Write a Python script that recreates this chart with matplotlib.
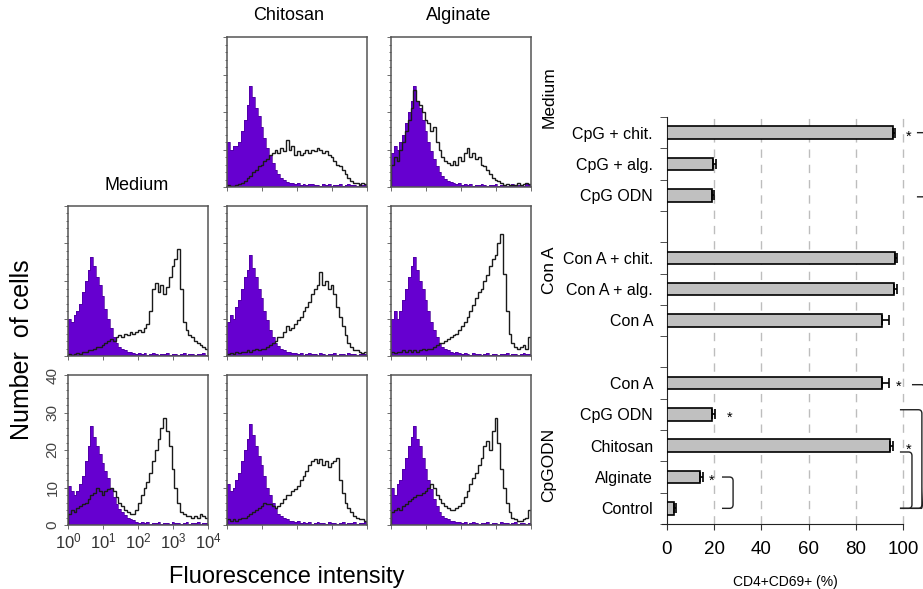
import numpy as np
import matplotlib
matplotlib.use("Agg")
import matplotlib.pyplot as plt
from matplotlib.path import Path
from matplotlib.patches import PathPatch
from matplotlib.ticker import MultipleLocator, FixedLocator, LogLocator, NullFormatter

plt.rcParams['font.family'] = ['Liberation Sans', 'DejaVu Sans']

# ---------------- data ----------------
# histogram channels: 50 bins over 10^0 .. 10^4 (log)
log_edges = np.linspace(0, 4, 51)

col_titles = ["Medium", "Chitosan", "Alginate"]
row_titles = ["Medium", "Con A", "CpGODN"]

# Row 1 (Medium stimulus)
ctrl_r1_chit = [12, 10, 11, 11, 12, 15, 18, 22, 27, 24,
                21, 19, 16, 13, 10.5, 8.5, 6.5, 4.5, 3.5, 2.5,
                1.8, 1.4, 1.2, 1.0, 0.8, 1.0, 0.6, 0.8, 0.5, 0.7,
                0.9, 0.5, 0.6, 0.4, 0.7, 0.5, 0.8, 0.4, 0.6, 0.5,
                0.7, 0.4, 0.6, 0.8, 0.5, 0.6, 0.4, 0.7, 0.5, 0.6]
stim_r1_chit = [0.5, 0.4, 0.3, 0.5, 0.8, 1.0, 1.5, 2.5, 3.0, 4.0,
                4.5, 5.5, 6.0, 7.0, 7.5, 8.5, 9.0, 10.0, 9.0, 10.5,
                9.5, 12.5, 10.0, 11.0, 8.5, 9.5, 8.5, 9.0, 10.0, 9.0,
                10.0, 9.5, 10.5, 10.0, 9.0, 9.5, 8.5, 8.0, 7.0, 6.0,
                5.5, 4.5, 3.5, 2.5, 1.5, 1.0, 1.0, 0.5, 1.0, 0.8]
ctrl_r1_alg = [9, 11, 10, 12, 14, 17, 20, 23, 27, 23,
               21, 18, 15, 12, 9.5, 7.5, 5.5, 4.0, 3.0, 2.2,
               1.6, 1.3, 1.0, 0.8, 1.0, 0.6, 0.7, 0.5, 0.8, 0.4,
               0.6, 0.5, 0.7, 0.5, 0.4, 0.6, 0.5, 0.7, 0.4, 0.5,
               0.6, 0.4, 0.5, 0.7, 0.4, 0.6, 0.5, 0.4, 0.7, 0.5]
stim_r1_alg = [6, 8, 7, 10, 12, 15, 18, 21, 26, 23,
               22, 20, 18, 17, 15, 16, 12, 10, 8, 7,
               6.5, 6, 7, 6, 8, 7, 9, 10.5, 8, 9,
               7.5, 8, 6, 5.5, 4.5, 3.5, 2.5, 2, 1.5, 1,
               0.5, 0.8, 0.5, 0.6, 0.5, 1.0, 0.5, 0.8, 1.2, 0.8]

# Row 2 (Con A)
ctrl_r2_med = [10, 9, 11, 12, 14, 17, 20, 23, 26.5, 24,
               21, 19, 16, 12.5, 10, 7.5, 5, 3.5, 2.5, 2,
               1.5, 1.2, 1.0, 0.8, 0.6, 0.9, 0.5, 0.7, 0.4, 0.6,
               0.8, 0.5, 0.4, 0.6, 0.5, 0.7, 0.4, 0.5, 0.6, 0.4,
               0.5, 0.7, 0.4, 0.6, 0.5, 0.4, 0.6, 0.5, 0.7, 0.4]
stim_r2_med = [0.5, 0.3, 0.5, 0.8, 0.6, 1.0, 1.2, 1.5, 1.5, 2.0,
               2.5, 2.5, 3.0, 3.5, 4.0, 4.5, 4.0, 5.0, 5.5, 5.0,
               6.0, 5.5, 6.5, 6.0, 6.5, 7.0, 6.5, 7.5, 8.5, 12.0,
               18.0, 19.5, 17.0, 19.0, 16.5, 18.5, 21.0, 24.0, 26.0, 28.5,
               18.0, 9.0, 7.0, 5.5, 5.0, 4.0, 3.5, 3.0, 2.5, 2.0]
ctrl_r2_chit = [9, 11, 10, 13, 15, 18, 21, 23, 27, 23.5,
                21, 18, 15.5, 12, 9.5, 7, 5, 3.5, 2.8, 2,
                1.6, 1.2, 1.0, 0.7, 0.9, 0.5, 0.7, 0.4, 0.6, 0.8,
                0.5, 0.6, 0.4, 0.7, 0.5, 0.4, 0.6, 0.5, 0.7, 0.4,
                0.6, 0.5, 0.4, 0.7, 0.5, 0.6, 0.4, 0.5, 0.6, 0.5]
stim_r2_chit = [0.5, 0.8, 0.6, 1.0, 0.8, 1.2, 1.0, 1.5, 1.2, 1.5,
                1.8, 1.5, 2.0, 2.0, 2.5, 3.0, 3.5, 4.0, 5.0, 5.0,
                6.5, 8.0, 7.0, 7.5, 8.5, 9.5, 10.5, 12.0, 13.0, 14.5,
                16.5, 18.0, 19.0, 22.5, 19.0, 20.0, 18.0, 19.0, 16.5, 13.0,
                10.5, 8.0, 5.5, 3.5, 2.5, 1.5, 1.5, 1.0, 0.8, 1.0]
ctrl_r2_alg = [10, 12, 10, 12, 15, 18, 21, 24, 26.5, 23,
               20, 18, 15, 12, 9, 7, 5, 3.5, 2.5, 2,
               1.5, 1.2, 0.9, 1.0, 0.7, 0.5, 0.8, 0.6, 0.4, 0.7,
               0.5, 0.6, 0.4, 0.5, 0.7, 0.4, 0.6, 0.5, 0.4, 0.6,
               0.5, 0.7, 0.4, 0.5, 0.6, 0.4, 0.5, 0.7, 0.5, 0.6]
stim_r2_alg = [1.0, 0.8, 1.2, 1.0, 1.5, 1.2, 1.5, 1.0, 1.5, 1.2,
               1.5, 1.8, 1.5, 1.8, 2.0, 2.5, 3.0, 3.5, 3.5, 4.0,
               4.5, 5.0, 5.5, 6.0, 7.0, 8.0, 9.0, 10.5, 12.0, 13.5,
               15.5, 17.0, 18.0, 20.0, 21.5, 24.0, 26.0, 27.0, 30.0, 32.5,
               22.0, 12.0, 6.0, 3.5, 2.5, 2.0, 2.5, 3.0, 2.0, 5.0]

# Row 3 (CpG ODN)
ctrl_r3_med = [10.5, 9, 8, 9, 11, 13, 17, 21, 26.5, 23.5,
               21, 19, 16.5, 14.5, 12.5, 10, 7.5, 5.5, 4.2, 3.4,
               2.6, 2.0, 1.7, 1.4, 0.8, 0.6, 0.9, 0.5, 0.7, 0.4,
               0.6, 0.5, 0.7, 0.4, 0.6, 0.5, 0.4, 0.7, 0.5, 0.6,
               0.4, 0.5, 0.7, 0.4, 0.6, 0.5, 0.7, 0.4, 0.6, 0.5]
stim_r3_med = [3.0, 4.0, 3.5, 4.5, 5.0, 5.5, 6.0, 7.0, 8.0, 8.5,
               10.0, 9.0, 8.0, 9.0, 9.5, 10.0, 9.0, 7.5, 6.0, 5.0,
               4.0, 3.5, 3.0, 3.0, 4.0, 6.0, 8.0, 10.0, 11.5, 14.0,
               17.0, 20.0, 23.0, 26.0, 28.5, 25.0, 21.0, 15.0, 10.0, 6.0,
               3.5, 3.0, 2.5, 2.5, 2.0, 2.5, 2.0, 3.0, 2.5, 2.0]
ctrl_r3_chit = [11, 9, 10, 12, 14, 17, 20, 23, 27, 24,
                21, 18.5, 16, 13, 10, 8, 6, 4.5, 3, 2.5,
                2, 1.5, 1.2, 1.0, 0.8, 1.0, 0.6, 0.8, 0.5, 0.7,
                0.4, 0.6, 0.8, 0.5, 0.6, 0.4, 0.7, 0.5, 0.6, 0.4,
                0.5, 0.7, 0.4, 0.6, 0.5, 0.7, 0.4, 0.6, 0.5, 0.7]
stim_r3_chit = [1.5, 1.0, 1.5, 1.0, 1.5, 2.0, 2.0, 2.5, 3.0, 3.5,
                4.0, 4.5, 5.0, 6.0, 5.5, 5.5, 5.0, 4.5, 5.0, 6.0,
                7.0, 8.0, 8.0, 9.0, 9.5, 10.5, 12.0, 13.0, 14.5, 16.0,
                17.0, 17.5, 16.5, 17.5, 16.0, 17.0, 15.5, 16.5, 17.0, 18.0,
                12.0, 8.5, 6.0, 4.5, 3.5, 2.5, 2.0, 1.5, 1.5, 1.0]
ctrl_r3_alg = [10, 8, 11, 12, 15, 18, 21, 23.5, 26.5, 23,
               21, 18, 15, 12, 9.5, 7, 5, 3.5, 2.5, 2,
               1.5, 1.2, 1.0, 0.7, 0.9, 0.5, 0.7, 0.4, 0.6, 0.8,
               0.5, 0.4, 0.6, 0.5, 0.7, 0.4, 0.6, 0.5, 0.4, 0.7,
               0.5, 0.6, 0.4, 0.5, 0.7, 0.4, 0.6, 0.5, 0.4, 0.6]
stim_r3_alg = [3.5, 4.0, 4.5, 4.0, 5.0, 5.5, 6.5, 7.0, 7.5, 8.0,
               8.0, 8.5, 9.0, 10.0, 11.0, 10.0, 8.0, 7.0, 6.0, 5.0,
               4.5, 4.0, 4.0, 4.5, 5.0, 6.0, 7.5, 9.0, 11.0, 12.5,
               14.0, 16.0, 18.0, 21.0, 22.5, 20.0, 25.0, 28.5, 22.0, 15.0,
               10.0, 6.0, 3.5, 2.0, 1.5, 1.0, 1.0, 1.5, 2.0, 4.0]

hist_ticks = [1, 10, 100, 1000, 10000]
hist_ticklabels = [r'$\mathregular{10^0}$', r'$\mathregular{10^1}$', r'$\mathregular{10^2}$',
                   r'$\mathregular{10^3}$', r'$\mathregular{10^4}$']
count_ticks = [0, 10, 20, 30, 40]

# Bar chart (CD4+CD69+ %), top to bottom; slot index gives position
bar_labels = ["CpG + chit.", "CpG + alg.", "CpG ODN",
              "Con A + chit.", "Con A + alg.", "Con A",
              "Con A", "CpG ODN", "Chitosan", "Alginate", "Control"]
bar_slots = [0, 1, 2, 4, 5, 6, 8, 9, 10, 11, 12]
bar_values = [95.8, 19.6, 19.0, 96.6, 96.0, 91.0, 91.0, 19.0, 94.5, 14.0, 3.0]
bar_errors = [0.7, 1.0, 1.0, 0.7, 1.5, 3.0, 3.0, 1.2, 1.2, 1.4, 1.0]
bar_ticks = [0, 20, 40, 60, 80, 100]
star_slots = [0, 8, 9, 10, 11]
star_x = [102.5, 98.3, 26.7, 102.3, 19.0]
# brackets: (x open end, x vertical, top slot, bottom slot)
brackets = [(23.3, 28.0, 11.0, 12.0),
            (98.7, 103.8, 10.2, 12.0),
            (98.7, 108.0, 8.85, 12.0),
            (103.8, 109.3, 8.05, 12.0),
            (105.9, 110.0, 0.0, 2.05)]

# ---------------- figure ----------------
W, H = 923, 589
fig = plt.figure(figsize=(W / 100, H / 100), dpi=100)

def px_axes(x, y, w, h):
    return fig.add_axes([x / W, 1 - (y + h) / H, w / W, h / H])

PURPLE = '#6600d0'
edges = 10 ** log_edges
panels = {
    (0, 1): (ctrl_r1_chit, stim_r1_chit),
    (0, 2): (ctrl_r1_alg, stim_r1_alg),
    (1, 0): (ctrl_r2_med, stim_r2_med),
    (1, 1): (ctrl_r2_chit, stim_r2_chit),
    (1, 2): (ctrl_r2_alg, stim_r2_alg),
    (2, 0): (ctrl_r3_med, stim_r3_med),
    (2, 1): (ctrl_r3_chit, stim_r3_chit),
    (2, 2): (ctrl_r3_alg, stim_r3_alg),
}
col_x = [68, 227, 391]
row_y = [37, 206, 375]
for (r, c), (ctrl, stim) in panels.items():
    ax = px_axes(col_x[c], row_y[r], 140, 150)
    ax.stairs(ctrl, edges, fill=True, color=PURPLE, lw=0)
    ax.stairs(ctrl, edges, color='#4a0099', lw=0.5)
    ax.stairs(stim, edges, color='#1a1a1a', lw=1.0)
    ax.set_xscale('log')
    ax.set_xlim(1, 1e4)
    ax.set_ylim(0, 40)
    for s in ax.spines.values():
        s.set_color('#555555')
        s.set_linewidth(1.1)
    ax.xaxis.set_major_locator(FixedLocator(hist_ticks))
    ax.xaxis.set_minor_locator(LogLocator(base=10, subs=np.arange(2, 10)))
    ax.xaxis.set_minor_formatter(NullFormatter())
    ax.yaxis.set_major_locator(FixedLocator(count_ticks))
    ax.yaxis.set_minor_locator(MultipleLocator(2))
    ax.tick_params(which='both', direction='out', color='#555555', width=0.6,
                   top=False, right=False)
    ax.tick_params(which='major', length=3)
    ax.tick_params(which='minor', length=1.5)
    if (r, c) == (2, 0):
        ax.set_xticklabels(hist_ticklabels, fontsize=12, color='#333333')
        ax.set_yticklabels([str(v) for v in count_ticks], fontsize=11,
                           rotation=90, va='center', color='#444444')
        ax.tick_params(axis='x', pad=2)
        ax.tick_params(axis='y', pad=3)
    else:
        ax.set_xticklabels([])
        ax.set_yticklabels([])

# column titles
fig.text(137 / W, 1 - 185 / H, col_titles[0], ha='center', va='center', fontsize=13)
fig.text(289 / W, 1 - 15 / H, col_titles[1], ha='center', va='center', fontsize=13)
fig.text(459 / W, 1 - 15 / H, col_titles[2], ha='center', va='center', fontsize=13)
# row titles (right of histograms)
for yy, t in zip([97, 270, 465], row_titles):
    fig.text(549 / W, 1 - yy / H, t, ha='center', va='center', rotation=90, fontsize=12.5)

fig.text(22 / W, 1 - 350 / H, "Number  of cells", ha='center', va='center',
         rotation=90, fontsize=18)
fig.text(287 / W, 1 - 577 / H, "Fluorescence intensity", ha='center', va='center',
         fontsize=17)

# ---------------- bar chart ----------------
bx = px_axes(667, 117, 236, 407)
bx.barh(bar_slots, bar_values, height=0.4, color='#c0c0c0', edgecolor='black',
        linewidth=1.2, zorder=3)
bx.errorbar(bar_values, bar_slots, xerr=[np.zeros(len(bar_errors)), bar_errors],
            fmt='none', ecolor='black', elinewidth=1.2, capsize=3.5, capthick=1.2, zorder=4)
bx.set_xlim(0, 100)
bx.set_ylim(12.5, -0.5)
for v in bar_ticks[1:]:
    bx.axvline(v, color='#bdbdbd', lw=1.0, ls=(0, (6, 5)), zorder=1, clip_on=False)
bx.spines['top'].set_visible(False)
bx.spines['right'].set_visible(False)
bx.spines['left'].set_color('#222222')
bx.spines['bottom'].set_color('#222222')
bx.set_xticks(bar_ticks)
bx.set_xticklabels([str(v) for v in bar_ticks], fontsize=13.5)
bx.tick_params(axis='x', length=4, pad=8, color='#333333')
bx.set_yticks(bar_slots)
bx.set_yticklabels(bar_labels, fontsize=11.5)
bx.yaxis.set_minor_locator(FixedLocator(np.arange(-0.5, 13, 1.0)))
bx.tick_params(axis='y', which='major', length=0, pad=10)
bx.tick_params(axis='y', which='minor', length=5, color='#333333', direction='out')
bx.spines['bottom'].set_bounds(-2.2, 100)

for xs, ys in zip(star_x, star_slots):
    bx.text(xs, ys + 0.12, '*', ha='center', va='center', fontsize=10.5, clip_on=False)

for x0, x1, y0, y1 in brackets:
    rx, ry = 1.5, 0.12
    verts = [(x0, y0), (x1 - rx, y0), (x1, y0), (x1, y0 + ry), (x1, y1 - ry),
             (x1, y1), (x1 - rx, y1), (x0, y1)]
    codes = [Path.MOVETO, Path.LINETO, Path.CURVE3, Path.CURVE3, Path.LINETO,
             Path.CURVE3, Path.CURVE3, Path.LINETO]
    bx.add_patch(PathPatch(Path(verts, codes), fill=False, lw=1.0, color='#222222',
                           clip_on=False))

fig.text(785 / W, 1 - 582 / H, "CD4+CD69+ (%)", ha='center', va='center', fontsize=10)

fig.savefig("out.png", dpi=100)
